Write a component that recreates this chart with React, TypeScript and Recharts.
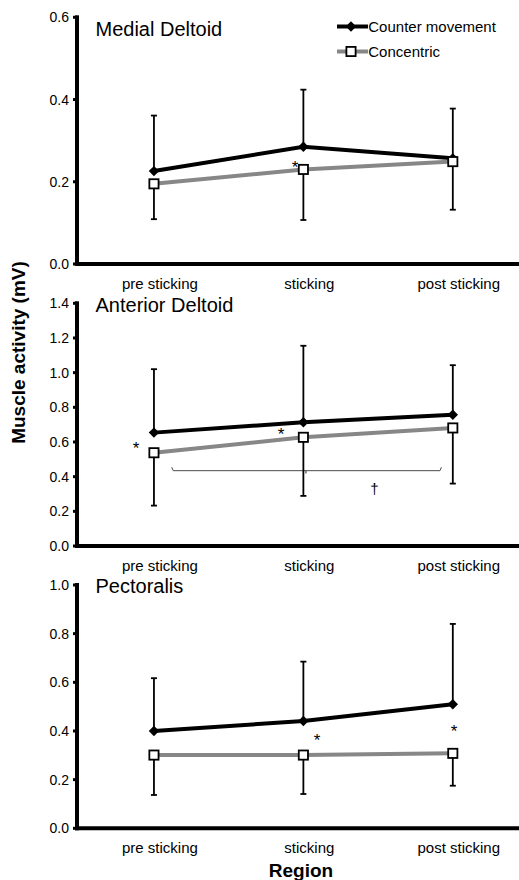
import React from 'react';
import {
  LineChart,
  Line,
  XAxis,
  YAxis,
  ErrorBar,
  Legend,
  ReferenceDot,
  ReferenceLine,
} from 'recharts';

// ---------- data ----------
const categories = ['pre sticking', 'sticking', 'post sticking'];
const seriesNames = ['Counter movement', 'Concentric'];

const medialCounter = [0.226, 0.285, 0.257];
const medialCounterSD = [0.135, 0.139, 0.121];
const medialConcentric = [0.195, 0.23, 0.249];
const medialConcentricSD = [0.086, 0.123, 0.117];

const anteriorCounter = [0.654, 0.714, 0.757];
const anteriorCounterSD = [0.366, 0.441, 0.286];
const anteriorConcentric = [0.538, 0.627, 0.681];
const anteriorConcentricSD = [0.305, 0.338, 0.321];

const pectoralisCounter = [0.4, 0.441, 0.51];
const pectoralisCounterSD = [0.217, 0.244, 0.33];
const pectoralisConcentric = [0.301, 0.301, 0.308];
const pectoralisConcentricSD = [0.164, 0.16, 0.133];

const medialTicks = [0, 0.2, 0.4, 0.6];
const anteriorTicks = [0, 0.2, 0.4, 0.6, 0.8, 1.0, 1.2, 1.4];
const pectoralisTicks = [0, 0.2, 0.4, 0.6, 0.8, 1.0];

// significance marks (x in category index units, y in mV)
const medialMarks = [{ x: 0.944, y: 0.236, text: '*' }];
const anteriorMarks = [
  { x: -0.12, y: 0.566, text: '*' },
  { x: 0.85, y: 0.648, text: '*' },
  { x: 1.475, y: 0.328, text: '†' },
];
const pectoralisMarks = [
  { x: 1.091, y: 0.365, text: '*' },
  { x: 2.008, y: 0.401, text: '*' },
];
const anteriorBracket = { from: 0.129, to: 1.914, mid: 1.017, y: 0.4345, hookUp: 0.02, hookDown: 0.016 };

// ---------- helpers ----------
const X_MIN = -0.515;
const X_MAX = 2.443;
const GREY = '#878787';
const FONT = '"Liberation Sans", Arial, sans-serif';

function buildRows(cm: number[], cmSd: number[], con: number[], conSd: number[]) {
  return categories.map((c, i) => ({
    idx: i,
    name: c,
    counter: cm[i],
    counterErr: [0, cmSd[i]],
    concentric: con[i],
    concentricErr: [conSd[i], 0],
  }));
}

const medialRows = buildRows(medialCounter, medialCounterSD, medialConcentric, medialConcentricSD);
const anteriorRows = buildRows(anteriorCounter, anteriorCounterSD, anteriorConcentric, anteriorConcentricSD);
const pectoralisRows = buildRows(pectoralisCounter, pectoralisCounterSD, pectoralisConcentric, pectoralisConcentricSD);

const diamondPath = (cx: number, cy: number, r = 5) =>
  `M${cx},${cy - r}L${cx + r},${cy}L${cx},${cy + r}L${cx - r},${cy}Z`;

const DiamondDot = (props: any) => {
  const { cx, cy, index } = props;
  if (cx == null || cy == null) return <g key={index} />;
  return <path key={index} d={diamondPath(cx, cy, 5.2)} fill="#000" stroke="none" />;
};

const SquareDot = (props: any) => {
  const { cx, cy, index } = props;
  if (cx == null || cy == null) return <g key={index} />;
  return (
    <rect key={index} x={cx - 4.6} y={cy - 4.6} width={9.2} height={9.2} fill="#fff" stroke="#000" strokeWidth={1.8} />
  );
};

const renderLegend = (props: any) => {
  const payload = [...(props.payload || [])].sort(
    (a: any, b: any) => seriesNames.indexOf(a.value) - seriesNames.indexOf(b.value)
  );
  return (
    <div style={{ fontFamily: FONT }}>
      {payload.map((entry: any) => (
        <div key={entry.value} style={{ display: 'flex', alignItems: 'center', height: 25 }}>
          <svg width={31.6} height={25} style={{ display: 'block', flex: 'none' }}>
            <line x1={0} x2={31} y1={12.5} y2={12.5} stroke={entry.color} strokeWidth={4} />
            {entry.dataKey === 'counter' ? (
              <path d={diamondPath(14, 12.5, 5.2)} fill="#000" />
            ) : (
              <rect x={9.4} y={7.9} width={9.2} height={9.2} fill="#fff" stroke="#000" strokeWidth={1.8} />
            )}
          </svg>
          <span style={{ fontSize: 15, color: '#000', whiteSpace: 'nowrap', lineHeight: '25px' }}>{entry.value}</span>
        </div>
      ))}
    </div>
  );
};

type PanelProps = {
  top: number;
  height: number;
  marginTop: number;
  xAxisHeight: number;
  yMax: number;
  ticks: number[];
  rows: any[];
  marks: { x: number; y: number; text: string }[];
  bracket?: typeof anteriorBracket;
  showLegend?: boolean;
  xLabel?: string;
};

const axisLineStyle = { stroke: '#000', strokeWidth: 4, strokeLinecap: 'square' as const };

function Panel({ top, height, marginTop, xAxisHeight, yMax, ticks, rows, marks, bracket, showLegend, xLabel }: PanelProps) {
  return (
    <div style={{ position: 'absolute', left: 0, top, width: 519, height }}>
      <LineChart width={519} height={height} data={rows} margin={{ top: marginTop, right: 0, bottom: 0, left: 17 }}>
        <XAxis
          dataKey="idx"
          type="number"
          domain={[X_MIN, X_MAX]}
          ticks={[0, 1, 2]}
          interval={0}
          allowDataOverflow
          tickFormatter={(v: number) => categories[Math.round(v)]}
          tickLine={false}
          tickSize={0}
          tickMargin={14.3}
          tick={{ fontSize: 15, fill: '#000', dx: 6 }}
          axisLine={axisLineStyle}
          height={xAxisHeight}
          label={
            xLabel
              ? { value: xLabel, position: 'insideBottom', offset: 3.5, fontSize: 19, fontWeight: 'bold', fill: '#000', dx: 3 }
              : undefined
          }
        />
        <YAxis
          type="number"
          domain={[0, yMax]}
          ticks={ticks}
          interval={0}
          allowDataOverflow
          tickFormatter={(v: number) => v.toFixed(1)}
          width={60}
          tickSize={4}
          tickMargin={4}
          tick={{ fontSize: 14, fill: '#000' }}
          tickLine={{ stroke: '#000', strokeWidth: 3 }}
          axisLine={axisLineStyle}
        />
        {showLegend && (
          <Legend
            layout="vertical"
            align="center"
            verticalAlign="middle"
            content={renderLegend}
            wrapperStyle={{ left: 336.7, top: 14.2, width: 183 }}
          />
        )}
        {bracket && (
          <ReferenceLine
            segment={[{ x: bracket.from, y: bracket.y }, { x: bracket.to, y: bracket.y }]}
            stroke="#4a4a4a"
            strokeWidth={1}
            ifOverflow="visible"
          />
        )}
        {bracket && (
          <ReferenceLine
            segment={[{ x: bracket.from, y: bracket.y }, { x: bracket.from - 0.01, y: bracket.y + bracket.hookUp }]}
            stroke="#4a4a4a"
            strokeWidth={1}
            ifOverflow="visible"
          />
        )}
        {bracket && (
          <ReferenceLine
            segment={[{ x: bracket.to, y: bracket.y }, { x: bracket.to + 0.01, y: bracket.y + bracket.hookUp }]}
            stroke="#4a4a4a"
            strokeWidth={1}
            ifOverflow="visible"
          />
        )}
        {bracket && (
          <ReferenceLine
            segment={[{ x: bracket.mid, y: bracket.y }, { x: bracket.mid, y: bracket.y - bracket.hookDown }]}
            stroke="#4a4a4a"
            strokeWidth={1.2}
            ifOverflow="visible"
          />
        )}
        <Line
          type="linear"
          dataKey="counter"
          name={seriesNames[0]}
          stroke="#000"
          strokeWidth={4}
          dot={DiamondDot}
          activeDot={false}
          isAnimationActive={false}
        >
          <ErrorBar dataKey="counterErr" direction="y" width={3} stroke="#000" strokeWidth={1.8} isAnimationActive={false} />
        </Line>
        <Line
          type="linear"
          dataKey="concentric"
          name={seriesNames[1]}
          stroke={GREY}
          strokeWidth={4}
          dot={SquareDot}
          activeDot={false}
          isAnimationActive={false}
        >
          <ErrorBar dataKey="concentricErr" direction="y" width={3} stroke="#000" strokeWidth={1.8} isAnimationActive={false} />
        </Line>
        {marks.map((m, i) => (
          <ReferenceDot
            key={i}
            x={m.x}
            y={m.y}
            r={0}
            fill="none"
            stroke="none"
            ifOverflow="visible"
            label={{ value: m.text, position: 'center', fontSize: m.text === '*' ? 17 : 15, fill: '#000' }}
          />
        ))}
      </LineChart>
    </div>
  );
}

export default function App() {
  return (
    <div
      style={{
        position: 'fixed',
        left: 0,
        top: 0,
        width: 519,
        height: 880,
        overflow: 'hidden',
        background: '#fff',
        fontFamily: FONT,
      }}
    >
      <Panel
        top={0}
        height={294}
        marginTop={17.3}
        xAxisHeight={30}
        yMax={0.6}
        ticks={medialTicks}
        rows={medialRows}
        marks={medialMarks}
        showLegend
      />
      <Panel
        top={294}
        height={282}
        marginTop={9.3}
        xAxisHeight={30}
        yMax={1.4}
        ticks={anteriorTicks}
        rows={anteriorRows}
        marks={anteriorMarks}
        bracket={anteriorBracket}
      />
      <Panel
        top={576}
        height={304}
        marginTop={9}
        xAxisHeight={51.7}
        yMax={1.0}
        ticks={pectoralisTicks}
        rows={pectoralisRows}
        marks={pectoralisMarks}
        xLabel="Region"
      />
      <svg
        width={519}
        height={880}
        style={{ position: 'absolute', left: 0, top: 0, pointerEvents: 'none', fontFamily: FONT }}
      >
        <text x={95.5} y={36.3} fontSize={20} fill="#000">Medial Deltoid</text>
        <text x={95.5} y={311.7} fontSize={20} fill="#000">Anterior Deltoid</text>
        <text x={95.5} y={593.3} fontSize={20} fill="#000">Pectoralis</text>
        <text
          transform="translate(25,352.5) rotate(-90)"
          textAnchor="middle"
          fontSize={19}
          fontWeight="bold"
          fill="#000"
        >
          Muscle activity (mV)
        </text>
      </svg>
    </div>
  );
}
